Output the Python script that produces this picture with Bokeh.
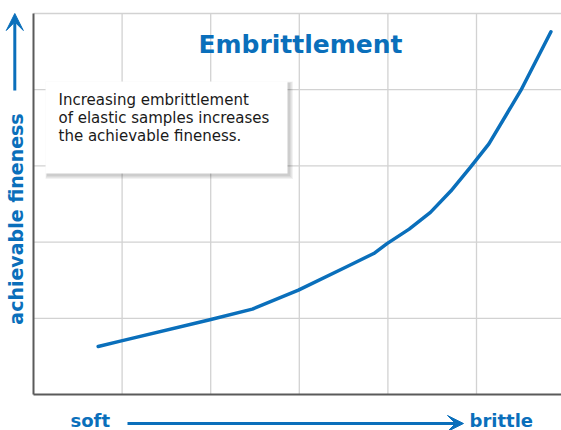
import math
from bokeh.plotting import figure
from bokeh.models import Range1d, Label, Arrow, VeeHead, ColumnDataSource
from bokeh.embed import file_html
from bokeh.resources import INLINE

# ---- data ----
brittleness = [0.73, 0.98, 1.99, 2.47, 2.99, 3.54, 3.84, 3.99, 4.24, 4.48, 4.71, 4.93, 5.14, 5.50, 5.84]
fineness = [0.63, 0.70, 0.98, 1.12, 1.37, 1.68, 1.85, 1.98, 2.17, 2.39, 2.67, 2.98, 3.29, 3.99, 4.76]
grid_ticks = [1, 2, 3, 4, 5]
title_text = "Embrittlement"
note_lines = ["Increasing embrittlement", "of elastic samples increases", "the achievable fineness."]
y_label = "achievable fineness"
x_left_label = "soft"
x_right_label = "brittle"

BLUE = "#0a6fbb"
FONT = "DejaVu Sans"

W, H = 561, 430
OX, OY = 33, 394          # plot origin in canvas pixels
SX, SY = 88.6, 76.2       # pixels per data unit
X_MAX = (W - OX) / SX     # right edge of plotting area
Y_MAX = 5.0               # top of plotting area


def px(x):
    return (x - OX) / SX


def py(y):
    return (OY - y) / SY


p = figure(width=W, height=H, output_backend="svg", toolbar_location=None,
           x_range=Range1d(-OX / SX, (W - OX) / SX),
           y_range=Range1d(-(H - OY) / SY, OY / SY),
           min_border=0)
p.outline_line_color = None
p.background_fill_color = "white"
p.border_fill_color = "white"
p.axis.visible = False
p.grid.visible = False

# grid lines (within the plotting area only)
n = len(grid_ticks)
p.segment(x0=grid_ticks, y0=[0] * n, x1=grid_ticks, y1=[Y_MAX] * n,
          line_color="#d2d2d2", line_width=1.3)
p.segment(x0=[0] * n, y0=grid_ticks, x1=[X_MAX] * n, y1=grid_ticks,
          line_color="#d2d2d2", line_width=1.3)
# axis lines
p.segment(x0=[0, 0], y0=[0, 0], x1=[0, X_MAX], y1=[Y_MAX, 0],
          line_color="#5a5a5a", line_width=2)

dx = 1.0 / SX
dy = 1.0 / SY

# note box with soft shadow
bl, br, bt, bb = px(45), px(287), py(81), py(173)
for k in range(4, 0, -1):
    p.quad(left=bl + (2 - k * 0.5) * dx, right=br + (1.5 + k) * dx,
           top=bt - (2 - k * 0.5) * dy, bottom=bb - (1.5 + k) * dy,
           fill_color="black", fill_alpha=0.05, line_color=None)
p.quad(left=bl, right=br, top=bt, bottom=bb, fill_color="white", line_color=None)

src = ColumnDataSource(dict(x=brittleness, y=fineness))
p.line("x", "y", source=src, line_color=BLUE, line_width=3.5, line_cap="round", line_join="round")

for i, t in enumerate(note_lines):
    p.add_layout(Label(x=px(58), y=py(99 + 18 * i), text=t, text_font=FONT, text_font_size="15px",
                       text_color="#1a1a1a", text_align="left", text_baseline="alphabetic"))

p.add_layout(Label(x=px(300), y=py(44), text=title_text, text_font=FONT, text_font_size="25px",
                   text_font_style="bold", text_color=BLUE, text_align="center",
                   text_baseline="alphabetic"))

# left axis label and arrow
p.add_layout(Label(x=px(15), y=py(218.5), text=y_label, angle=math.pi / 2, text_font=FONT,
                   text_font_size="19px", text_font_style="bold", text_color=BLUE,
                   text_align="center", text_baseline="alphabetic"))
p.add_layout(Arrow(x_start=px(14.3), y_start=py(90), x_end=px(14.3), y_end=py(13),
                   line_color=BLUE, line_width=3,
                   end=VeeHead(size=17, fill_color=BLUE, line_color=BLUE)))

# bottom labels and arrow
p.add_layout(Label(x=px(70), y=py(420), text=x_left_label, text_font=FONT, text_font_size="18px",
                   text_font_style="bold", text_color=BLUE, text_align="left",
                   text_baseline="alphabetic"))
p.add_layout(Arrow(x_start=px(127), y_start=py(423), x_end=px(463), y_end=py(423),
                   line_color=BLUE, line_width=3,
                   end=VeeHead(size=16, fill_color=BLUE, line_color=BLUE)))
p.add_layout(Label(x=px(469), y=py(420), text=x_right_label, text_font=FONT, text_font_size="18px",
                   text_font_style="bold", text_color=BLUE, text_align="left",
                   text_baseline="alphabetic"))

open("out.html", "w").write(file_html(p, INLINE))
